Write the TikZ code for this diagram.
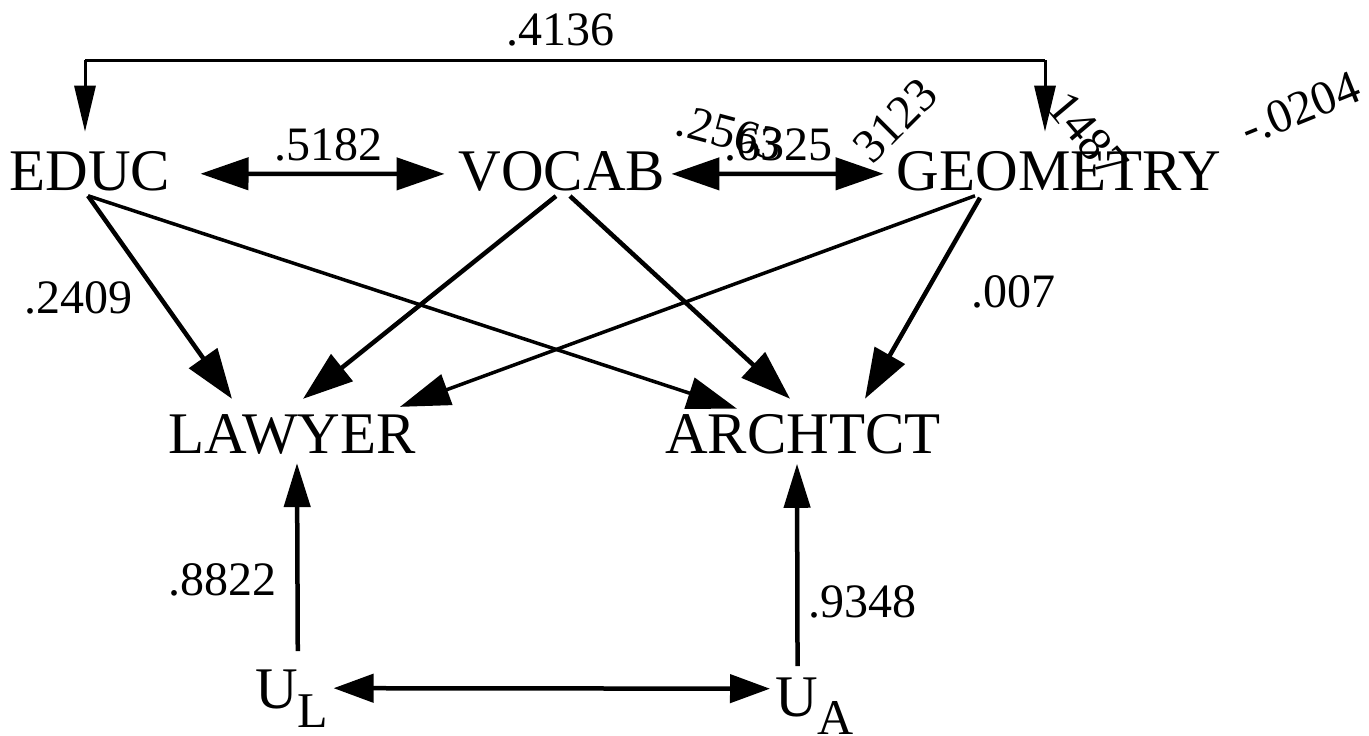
\documentclass[tikz,border=0pt]{standalone}
\usepackage{fontspec}
\setmainfont{Liberation Serif}
\usetikzlibrary{arrows.meta}
\begin{document}
\begin{tikzpicture}[x=1pt,y=-1pt,
  var/.style={inner sep=0pt,font=\fontsize{59}{59}\selectfont},
  coef/.style={inner sep=0pt,font=\fontsize{48}{48}\selectfont},
  path/.style={line width=4.5pt,-{Triangle[length=50pt,width=34pt]}},
  thinpath/.style={line width=3.5pt,-{Triangle[length=50pt,width=32pt]}},
  corr/.style={line width=4.5pt,{Triangle[length=48pt,width=32pt]}-{Triangle[length=48pt,width=32pt]}},
  toparrow/.style={line width=3pt,-{Triangle[length=46pt,width=21pt]}},
  uarrow/.style={line width=4.5pt,-{Triangle[length=44pt,width=26pt]}},
  ucorr/.style={line width=4.5pt,{Triangle[length=40pt,width=28pt]}-{Triangle[length=40pt,width=28pt]}}]
\useasboundingbox (0,0) rectangle (1369,736);

% variables
\node[var,anchor=base] (educ) at (90,190) {EDUC};
\node[var,anchor=base] (vocab) at (562,190) {VOCAB};
\node[var,anchor=base] (geom) at (1059,190) {GEOMETRY};
\node[var,anchor=base] (lawyer) at (292,453) {LAWYER};
\node[var,anchor=base] (archt) at (803,453) {ARCHTCT};
\node[var,anchor=base west] (ul) at (255,708) {U\raisebox{-19pt}{\fontsize{50}{50}\selectfont L}};
\node[var,anchor=base west] (ua) at (775,716) {U\raisebox{-18pt}{\fontsize{50}{50}\selectfont A}};

% correlation between EDUC and GEOMETRY over the top
\coordinate (topL) at (85,60);
\coordinate (topR) at (1045,60);
\draw[line width=3pt] (topL) -- (topR);
\draw[toparrow] (topL) -- ([xshift=-5pt,yshift=19pt]educ.north);
\draw[toparrow] (topR) -- ([xshift=-14pt,yshift=19pt]geom.north);

% correlations between the exogenous variables
\draw[corr] ([xshift=30pt,yshift=-3pt]educ.east) -- ([xshift=-14pt,yshift=-3pt]vocab.west);
\draw[corr] ([xshift=6pt,yshift=-3pt]vocab.east) -- ([xshift=-13pt,yshift=-3pt]geom.west);

% paths
\draw[path] ([xshift=-2pt,yshift=-5pt]educ.south) -- ([xshift=-60pt,yshift=15pt]lawyer.north);
\draw[thinpath] ([xshift=-2pt,yshift=-5pt]educ.south) -- ([xshift=-66pt,yshift=5pt]archt.north);
\draw[path] ([xshift=-6pt,yshift=-5pt]vocab.south) -- ([xshift=11pt,yshift=15pt]lawyer.north);
\draw[path] ([xshift=8pt,yshift=-5pt]vocab.south) -- ([xshift=-13pt,yshift=15pt]archt.north);
\draw[thinpath] ([xshift=-84pt,yshift=-5pt]geom.south) -- ([xshift=108pt,yshift=7pt]lawyer.north);
\draw[path] ([xshift=-79pt,yshift=-7pt]geom.south) -- ([xshift=62pt,yshift=15pt]archt.north);

% disturbances
\draw[uarrow] ([xshift=6pt,yshift=18pt]ul.north) -- ([xshift=5pt,yshift=-9pt]lawyer.south);
\draw[uarrow] ([xshift=-17pt,yshift=11pt]ua.north) -- ([xshift=-6pt,yshift=-10pt]archt.south);
\draw[ucorr] ([xshift=5pt,yshift=10pt]ul.east) -- ([xshift=-5pt,yshift=17pt]ua.west);

% coefficients
\node[coef] (c1) at (560,30) {.4136};
\node[coef] (c2) at (328,145) {.5182};
\node[coef] (c3) at (78,298) {.2409};
\node[coef] (c4) at (1013,292) {.007};
\node[coef] (c5) at (222,580) {.8822};
\node[coef] (c6) at (862,602) {.9348};
\node[coef,rotate=-15] (c7) at (730,133) {.2563};
\node[coef] (c8) at (778,145) {.6325};
\node[coef,rotate=45] (c9) at (895,120) {3123};
\node[coef,rotate=-50] (c10) at (1088,135) {1487};
\node[coef,rotate=22] (c11) at (1300,108) {-.0204};
\end{tikzpicture}
\end{document}
